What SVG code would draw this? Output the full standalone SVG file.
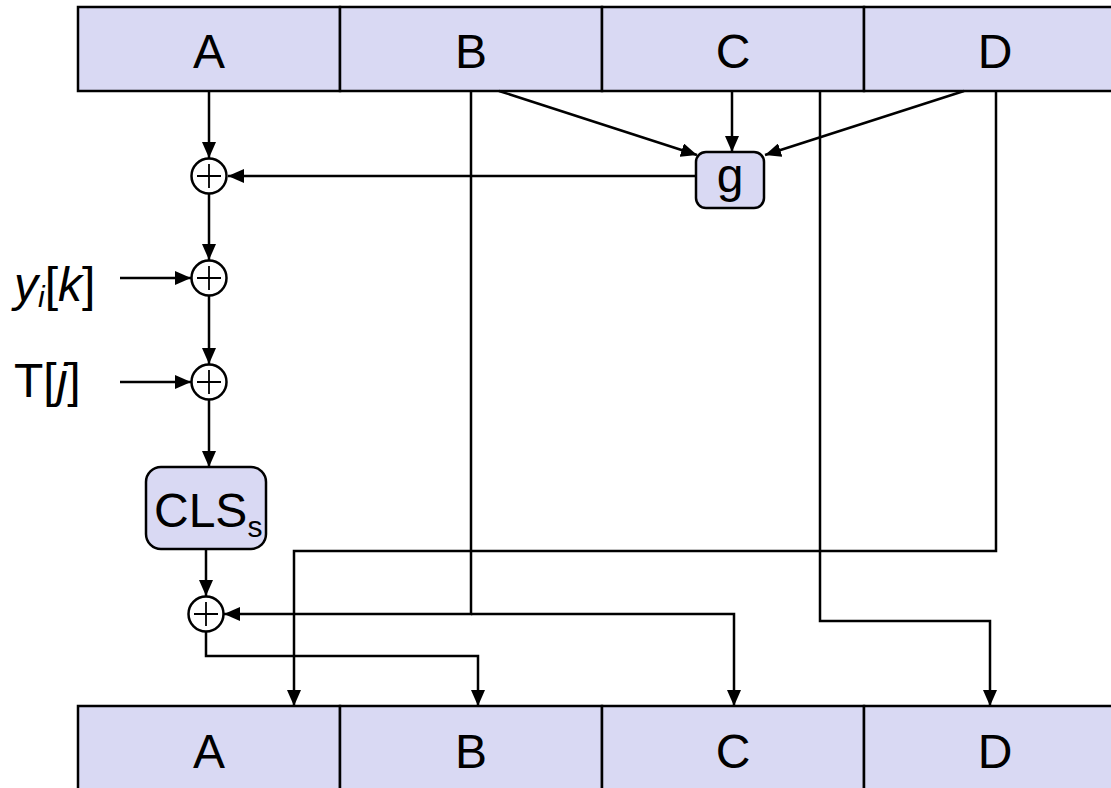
<svg xmlns="http://www.w3.org/2000/svg" width="1111" height="788" viewBox="0 0 1111 788">
<style>
.cell{fill:#d9d9f3;stroke:#000;stroke-width:2.5}
.box{fill:#d9d9f3;stroke:#000;stroke-width:2.5}
.lbl{font-family:"Liberation Sans",Arial,sans-serif;font-size:48px;fill:#000}
.c{text-anchor:middle}
.w{fill:none;stroke:#000;stroke-width:2.5}
.sum{fill:#fff;stroke:#000;stroke-width:2.5}
.plus{stroke:#000;stroke-width:1.8;fill:none}
</style>
<defs>
<marker id="ah" markerUnits="userSpaceOnUse" markerWidth="16" markerHeight="14" refX="16" refY="7" orient="auto">
<path d="M0,0 L16,7 L0,14 Z" fill="#000"/>
</marker>
</defs>
<g id="top-row">
<rect class="cell" x="78" y="7" width="262" height="84"/>
<rect class="cell" x="340" y="7" width="262" height="84"/>
<rect class="cell" x="602" y="7" width="262" height="84"/>
<rect class="cell" x="864" y="7" width="262" height="84"/>
<text class="lbl c" x="209" y="68">A</text>
<text class="lbl c" x="471" y="68">B</text>
<text class="lbl c" x="733" y="68">C</text>
<text class="lbl c" x="995" y="68">D</text>
</g>
<g id="bottom-row">
<rect class="cell" x="78" y="706" width="262" height="90"/>
<rect class="cell" x="340" y="706" width="262" height="90"/>
<rect class="cell" x="602" y="706" width="262" height="90"/>
<rect class="cell" x="864" y="706" width="262" height="90"/>
<text class="lbl c" x="209" y="768">A</text>
<text class="lbl c" x="471" y="768">B</text>
<text class="lbl c" x="733" y="768">C</text>
<text class="lbl c" x="995" y="768">D</text>
</g>
<g id="connectors">
<line class="w" x1="209" y1="91" x2="209" y2="158" marker-end="url(#ah)"/>
<line class="w" x1="696" y1="176" x2="228" y2="176" marker-end="url(#ah)"/>
<line class="w" x1="499" y1="91" x2="697" y2="155" marker-end="url(#ah)"/>
<line class="w" x1="732" y1="91" x2="732" y2="152" marker-end="url(#ah)"/>
<line class="w" x1="964" y1="91" x2="765" y2="155" marker-end="url(#ah)"/>
<line class="w" x1="209" y1="194" x2="209" y2="260" marker-end="url(#ah)"/>
<line class="w" x1="120" y1="278" x2="191" y2="278" marker-end="url(#ah)"/>
<line class="w" x1="209" y1="296" x2="209" y2="364" marker-end="url(#ah)"/>
<line class="w" x1="120" y1="382" x2="191" y2="382" marker-end="url(#ah)"/>
<line class="w" x1="209" y1="400" x2="209" y2="467" marker-end="url(#ah)"/>
<line class="w" x1="206" y1="549" x2="206" y2="596" marker-end="url(#ah)"/>
<polyline class="w" points="471,91 471,614 224,614" marker-end="url(#ah)"/>
<polyline class="w" points="471,614 734,614 734,706" marker-end="url(#ah)"/>
<polyline class="w" points="996,91 996,551 294,551 294,706" marker-end="url(#ah)"/>
<polyline class="w" points="820,91 820,621 990,621 990,706" marker-end="url(#ah)"/>
<polyline class="w" points="206,632 206,656 478,656 478,706" marker-end="url(#ah)"/>
</g>
<g id="xor1">
<circle class="sum" cx="209" cy="176" r="17.5"/>
<path class="plus" d="M197,176 H221 M209,164 V188"/>
</g>
<g id="xor2">
<circle class="sum" cx="209" cy="278" r="17.5"/>
<path class="plus" d="M197,278 H221 M209,266 V290"/>
</g>
<g id="xor3">
<circle class="sum" cx="209" cy="382" r="17.5"/>
<path class="plus" d="M197,382 H221 M209,370 V394"/>
</g>
<g id="xor4">
<circle class="sum" cx="206" cy="614" r="17.5"/>
<path class="plus" d="M194,614 H218 M206,602 V626"/>
</g>
<g id="g-box">
<rect class="box" x="696" y="152" width="68" height="56" rx="10"/>
<text class="lbl c" x="730" y="192">g</text>
</g>
<g id="cls-box">
<rect class="box" x="146" y="467" width="120" height="82" rx="15"/>
<text class="lbl" x="154" y="527">CLS<tspan font-size="30" dy="10">s</tspan></text>
</g>
<g id="input-y">
<text class="lbl" x="14" y="301"><tspan font-style="italic">y</tspan><tspan font-style="italic" font-size="30" dy="6">i</tspan><tspan dy="-6">[</tspan><tspan font-style="italic">k</tspan>]</text>
</g>
<g id="input-t">
<text class="lbl" x="14" y="397">T[<tspan font-style="italic">j</tspan>]</text>
</g>
</svg>
